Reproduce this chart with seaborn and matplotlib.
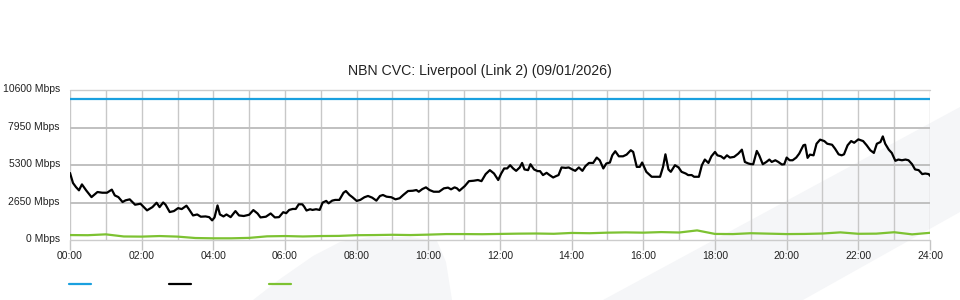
import matplotlib
matplotlib.use("Agg")
import matplotlib.pyplot as plt
import matplotlib.transforms as mtransforms
import seaborn as sns
import pandas as pd
from matplotlib.patches import Polygon

sns.set_theme(style="white")
plt.rcParams["font.family"] = ["Liberation Sans", "DejaVu Sans"]

# ---------------- data ----------------
title = "NBN CVC: Liverpool (Link 2) (09/01/2026)"
y_ticks = [0, 2650, 5300, 7950, 10600]
y_tick_labels = ["0 Mbps", "2650 Mbps", "5300 Mbps", "7950 Mbps", "10600 Mbps"]
x_tick_hours = [0, 2, 4, 6, 8, 10, 12, 14, 16, 18, 20, 22, 24]
x_tick_labels = ["00:00", "02:00", "04:00", "06:00", "08:00", "10:00", "12:00",
                 "14:00", "16:00", "18:00", "20:00", "22:00", "24:00"]

capacity_minutes = [0, 1440]
capacity_mbps = [10000, 10000]

traffic_minutes = [
    0, 5, 10, 15, 20, 27, 36, 46, 54, 62, 70, 75, 81, 88, 93, 100, 109, 118, 129, 138,
    145, 150, 156, 160, 167, 174, 181, 187, 195, 199, 206, 213, 219, 227, 233, 238, 242, 247, 251, 257,
    262, 269, 277, 283, 291, 300, 307, 314, 319, 328, 336, 343, 350,
    357, 362, 367, 373, 378, 383, 389, 392, 396, 402, 406, 412, 418, 423, 429, 433, 439, 444, 451, 458,
    462, 468, 473, 480, 486, 493, 499, 506, 513, 519, 524, 530, 538, 545, 552, 558, 566, 574, 580, 584,
    590, 596, 602, 609, 618, 626, 633, 638, 644, 648, 652, 661, 668, 676, 683, 689, 696, 703, 710, 717,
    722, 727, 732, 737, 742, 747, 753, 757, 761, 767, 771, 777, 783, 787, 792, 798, 803, 809, 814, 818,
    823, 830, 835, 841, 846, 852, 858, 863, 869, 876, 882, 887, 893, 898, 904, 908, 913, 919, 926, 932,
    939, 943, 949, 954, 958, 965, 974, 980, 988, 993, 997, 1002, 1006, 1013, 1019, 1024, 1031, 1035, 1041, 1045,
    1053, 1058, 1063, 1069, 1074, 1080,
    1084, 1090, 1095, 1100, 1105, 1112, 1119, 1125, 1130, 1136, 1141, 1144, 1150, 1154, 1160, 1166, 1171, 1175,
    1181, 1186, 1192, 1196, 1200, 1205, 1210, 1216, 1221, 1228, 1231, 1235, 1239, 1245, 1250, 1256, 1263, 1268,
    1276, 1281, 1287, 1292, 1296, 1302, 1308, 1313, 1320, 1328, 1334, 1340, 1346, 1351, 1357, 1361, 1365, 1371,
    1376, 1382, 1387, 1393, 1399, 1404, 1410, 1415, 1421, 1427, 1432, 1438, 1440,
]
traffic_mbps = [
    4750, 4040, 3750, 3520, 3940, 3520, 3040, 3400, 3350, 3350, 3570, 3160, 3040, 2690, 2810, 2880, 2500, 2570, 2100, 2330,
    2640, 2330, 2660, 2500, 1980, 2050, 2260, 2190, 2430, 2190, 1740, 1810, 1650, 1670, 1620, 1390, 1600, 2450, 1810, 1670,
    1810, 1620, 2050, 1740, 1700, 1790, 2120, 1880, 1600, 1650, 1880, 1600, 1620,
    1970, 1900, 2130, 2200, 2200, 2530, 2530, 2370, 2090, 2180, 2130, 2180, 2130, 2650, 2770, 2600, 2790, 2840, 2840, 3350,
    3470, 3190, 3030, 2770, 2840, 3030, 3120, 3000, 2790, 3120, 3190, 3070, 3030, 2880, 2960, 3190, 3470, 3490, 3540, 3420,
    3610, 3730, 3540, 3420, 3420, 3660, 3710, 3590, 3730, 3660, 3490, 3820, 4170, 4200, 4250, 4170, 4670, 4950, 4710, 4250,
    4710, 5070, 5070, 5300, 5070, 4900, 5140, 5460, 5000, 4950, 5370, 5000, 4880, 4880, 4600, 4760, 4600, 4430, 4530, 4600,
    5140, 5110, 5140, 5000, 4900, 5140, 4900, 5230, 5460, 5460, 5840, 5650, 5070, 5420, 5490, 6000, 6290, 5930, 5930, 6050,
    6360, 6240, 5180, 5180, 5490, 4830, 4480, 4480, 4480, 5180, 6070, 5000, 4830, 5300, 5140, 4830, 4710, 4600, 4600, 4480,
    4480, 5300, 5700, 5460, 5930, 6240,
    6000, 5930, 5770, 6000, 5840, 5890, 6120, 6400, 5530, 5420, 5370, 5370, 6310, 6000, 5370, 5530, 5700, 5530,
    5650, 5530, 5350, 5370, 5840, 5650, 5650, 5840, 6120, 6710, 6750, 5820, 6050, 6000, 6820, 7110, 7010, 6820,
    6750, 6470, 6070, 6000, 6070, 6710, 7010, 6890, 7130, 7010, 6710, 6360, 6170, 6820, 6940, 7340, 6820, 6400,
    6170, 5610, 5700, 5650, 5700, 5650, 5370, 5000, 4950, 4670, 4710, 4670, 4550,
]

other_minutes = [
    0, 30, 60, 90, 120, 150, 180, 210, 240, 270, 300, 330, 360, 390, 420, 450, 480, 510, 540, 570,
    600, 630, 660, 690, 720, 750, 780, 810, 840, 870, 900, 930, 960, 990, 1020, 1050, 1080, 1110, 1140, 1170,
    1200, 1230, 1260, 1290, 1320, 1350, 1380, 1410, 1440,
]
other_mbps = [
    350, 340, 400, 250, 240, 280, 240, 140, 120, 120, 150, 260, 280, 250, 280, 290, 340, 350, 370, 350,
    380, 420, 420, 410, 430, 450, 460, 440, 500, 480, 520, 540, 520, 560, 530, 680, 430, 420, 480, 450,
    420, 430, 460, 540, 440, 450, 550, 400, 510,
]

BLUE = "#1aa0df"
BLACK = "#000000"
GREEN = "#7dc232"
GRID = "#c8c8c8"

# ---------------- figure ----------------
fig = plt.figure(figsize=(9.6, 3.0), dpi=100)
fig.patch.set_facecolor("white")

W, H = 960.0, 300.0
def fc(px, py):
    return (px / W, 1 - py / H)

wm = "#f5f6f8"
band = Polygon([fc(603, 300), fc(960, 107), fc(960, 212), fc(803, 300)],
               closed=True, transform=fig.transFigure, facecolor=wm, edgecolor="none", zorder=-5)
blob = Polygon([fc(253, 300), fc(280, 279), fc(313, 256), fc(340, 242), fc(370, 237),
                fc(410, 237), fc(437, 241), fc(446, 262), fc(452, 300)],
               closed=True, transform=fig.transFigure, facecolor=wm, edgecolor="none", zorder=-5)
fig.patches.extend([band, blob])

ax = fig.add_axes([70 / W, 1 - 240 / H, 860 / W, (240 - 90.4) / H])
ax.set_facecolor("none")

cap_df = pd.DataFrame({"h": [m / 60 for m in capacity_minutes], "v": capacity_mbps})
tr_df = pd.DataFrame({"h": [m / 60 for m in traffic_minutes], "v": traffic_mbps})
ot_df = pd.DataFrame({"h": [m / 60 for m in other_minutes], "v": other_mbps})

sns.lineplot(data=cap_df, x="h", y="v", ax=ax, color=BLUE, lw=1.6, label="capacity", zorder=5)
sns.lineplot(data=tr_df, x="h", y="v", ax=ax, color=BLACK, lw=1.6, label="traffic", zorder=6)
sns.lineplot(data=ot_df, x="h", y="v", ax=ax, color=GREEN, lw=1.6, label="other", zorder=5)

ax.set_xlim(0, 24)
ax.set_ylim(0, 10600)
ax.set_xlabel("")
ax.set_ylabel("")

for s in ax.spines.values():
    s.set_visible(False)

ax.set_xticks(x_tick_hours)
ax.set_xticklabels(x_tick_labels)
ax.set_xticks(list(range(0, 25)), minor=True)
ax.set_yticks(y_ticks)
ax.set_yticklabels(y_tick_labels)

ax.grid(False)
ax.xaxis.grid(True, which="both", color=GRID, lw=1.0, zorder=0)
for yv in y_ticks:
    if yv in (0, 10600):
        ax.axhline(yv, color="#cccccc", lw=1.0, zorder=1, clip_on=False)
    else:
        ax.axhline(yv, color="#c0c0c0", lw=1.4, zorder=1)

ax.tick_params(axis="x", which="major", length=7.2, width=1, color="#c4c4c4",
               direction="out", pad=1.0, labelsize=7.5, labelcolor="#222222", bottom=True)
ax.tick_params(axis="x", which="minor", length=0)
ax.tick_params(axis="y", length=0, pad=7.2, labelsize=7.5, labelcolor="#222222")

# y labels sit a couple of pixels above their grid lines
up = mtransforms.ScaledTranslation(0, 2 / 100, fig.dpi_scale_trans)
for lab in ax.get_yticklabels():
    lab.set_transform(lab.get_transform() + up)

# title
fig.text(0.5, 1 - 71 / H, title, ha="center", va="center", fontsize=10.2, color="#222222")

# legend (handles only, no text)
handles, _ = ax.get_legend_handles_labels()
ax.get_legend().remove()
fig.legend(handles, ["", "", ""], ncol=3, loc="center left",
           bbox_to_anchor=fc(69, 285), frameon=False, fontsize=7.5,
           handlelength=2.11, handletextpad=0.0, columnspacing=7.49,
           borderpad=0, borderaxespad=0)

fig.savefig("out.png", dpi=100, facecolor="white")
